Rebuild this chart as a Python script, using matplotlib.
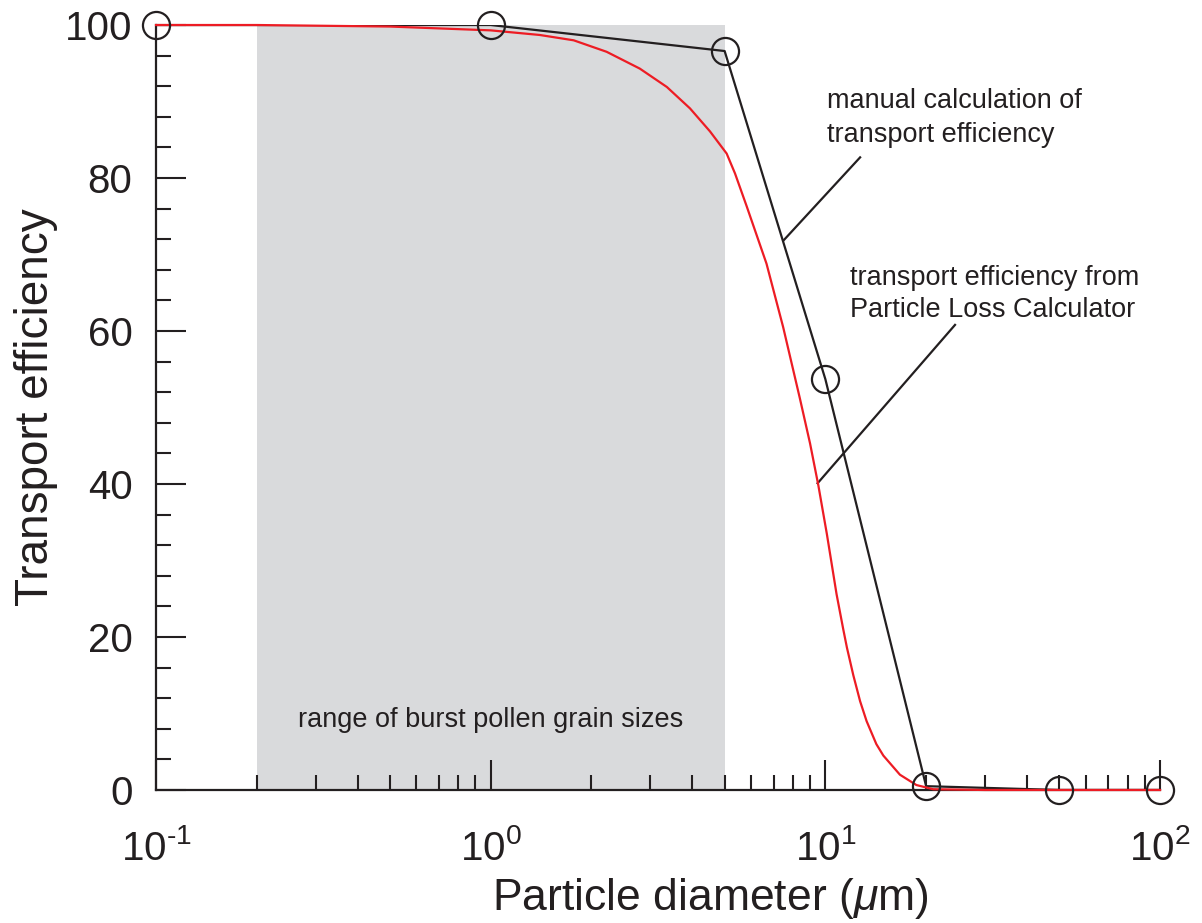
import numpy as np
import matplotlib.pyplot as plt
from matplotlib.ticker import MultipleLocator, FixedLocator, FuncFormatter

plt.rcParams['font.family'] = ['Liberation Sans', 'DejaVu Sans']
plt.rcParams['mathtext.fontset'] = 'custom'
plt.rcParams['mathtext.rm'] = 'Liberation Sans'
plt.rcParams['mathtext.it'] = 'Liberation Sans:italic'

# manual calculation (points with circles)
d_manual = [0.1, 1.0, 5.0, 10.0, 20.0, 50.0, 100.0]
eff_manual = [100.0, 100.0, 96.6, 53.7, 0.5, 0.0, 0.0]

# particle loss calculator curve
d_plc = [0.1, 0.2, 0.5, 1.0, 1.4, 1.77, 2.22, 2.79, 3.36, 3.94, 4.52, 5.07, 5.37,
         5.82, 6.67, 7.48, 8.39, 9.0, 9.53, 10.1, 10.44, 10.8, 11.31, 11.6, 12.12,
         12.7, 13.28, 14.2, 14.9, 16.7, 18.7, 21.0, 30.0, 50.0, 100.0]
eff_plc = [100.0, 100.0, 99.8, 99.3, 98.7, 98.0, 96.5, 94.3, 91.9, 89.1, 86.1, 83.2, 80.6,
           76.3, 68.8, 60.5, 51.2, 45.3, 39.8, 33.5, 29.6, 25.6, 21.0, 18.6, 15.0,
           11.6, 9.0, 6.0, 4.5, 2.0, 0.65, 0.1, 0.0, 0.0, 0.0]

# range of burst pollen grain sizes
pollen_range = [0.2, 5.0]

# leader lines for the labels: (x0, x1), (y0, y1)
leader_manual = ([12.7, 7.52], [82.7, 71.9])
leader_plc = ([24.4, 9.48], [60.8, 40.1])

black = '#231f20'
red = '#ed1c24'
grey = '#d9dadc'

fig = plt.figure(figsize=(12.02, 9.23), dpi=100)
ax = fig.add_axes([0.1298, 0.1441, 0.9651 - 0.1298, 0.9729 - 0.1441])

ax.axvspan(pollen_range[0], pollen_range[1], ymin=0, ymax=1, color=grey, lw=0, zorder=0)

ax.plot(d_manual, eff_manual, color=black, lw=1.6, zorder=3)
ax.plot(d_manual, eff_manual, 'o', ms=19.5, mfc='none', mec=black, mew=1.6,
        clip_on=False, zorder=4)
ax.plot(d_plc, eff_plc, color=red, lw=1.6, zorder=3, clip_on=False)

ax.plot(*leader_manual, color=black, lw=1.6)
ax.plot(*leader_plc, color=black, lw=1.6)

ax.text(10.09, 89.15, 'manual calculation of', fontsize=19.5, color=black)
ax.text(10.09, 84.7, 'transport efficiency', fontsize=19.5, color=black)
ax.text(11.84, 66.0, 'transport efficiency from', fontsize=19.5, color=black)
ax.text(11.84, 61.8, 'Particle Loss Calculator', fontsize=19.5, color=black)
ax.text(1.0, 8.27, 'range of burst pollen grain sizes', fontsize=19.5, color=black,
        ha='center')

ax.set_xscale('log')
ax.set_xlim(0.1, 100)
ax.set_ylim(0, 100)
ax.yaxis.set_major_locator(FixedLocator([0, 20, 40, 60, 80, 100]))
ax.yaxis.set_minor_locator(MultipleLocator(4))


def pow_label(v, pos):
    e = str(int(round(np.log10(v)))).replace('-', '\u2010')
    return r'$\mathdefault{10^{%s}}$' % e


ax.xaxis.set_major_formatter(FuncFormatter(pow_label))

for s in ['top', 'right']:
    ax.spines[s].set_visible(False)
for s in ['left', 'bottom']:
    ax.spines[s].set_linewidth(1.6)
    ax.spines[s].set_color(black)

ax.tick_params(which='both', direction='in', color=black, width=1.5, labelcolor=black)
ax.tick_params(which='major', length=21.6, labelsize=29)
ax.tick_params(which='minor', length=10.8)
ax.tick_params(axis='x', which='major', pad=28)
ax.tick_params(axis='y', which='major', pad=17)

ax.set_xlabel(r'Particle diameter ($\mu$m)', fontsize=32, color=black)
ax.xaxis.set_label_coords(0.552, -0.112, transform=ax.transAxes)
ax.xaxis.label.set_va('top')
ax.set_ylabel('Transport efficiency', fontsize=33, color=black, labelpad=5)

fig.savefig('out.png', dpi=100)
